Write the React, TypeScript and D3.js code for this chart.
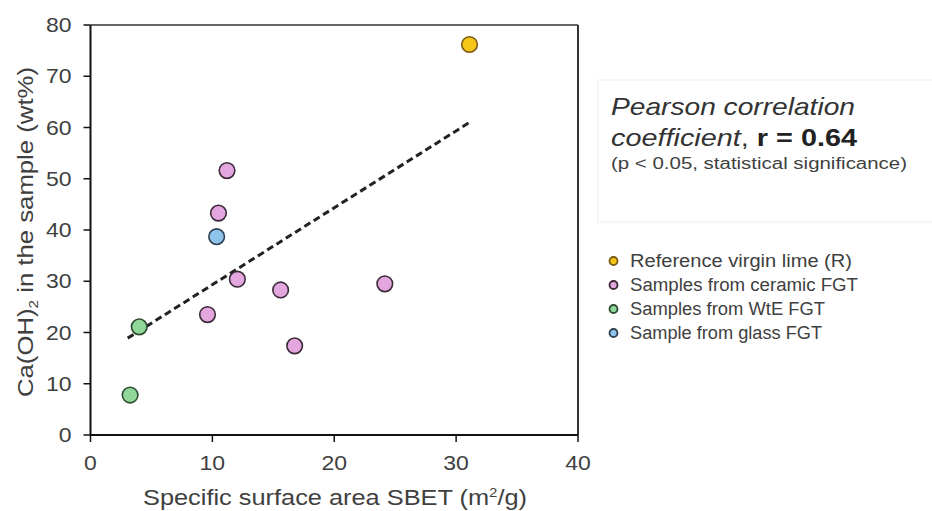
import React from "react";
import * as d3 from "d3";

const groups = ["Reference virgin lime (R)", "Samples from ceramic FGT", "Samples from WtE FGT", "Sample from glass FGT"];
const groupColors = ["#F5C518", "#E3A6DE", "#8FD89A", "#8EC3EC"];
const groupStrokes = ["#7A5A12", "#3A2A38", "#2E4A30", "#2E3F50"];

const sbet = [31.1, 11.2, 10.5, 10.35, 12.05, 15.6, 9.6, 16.75, 24.15, 4.0, 3.25];
const caoh = [76.2, 51.6, 43.3, 38.7, 30.4, 28.3, 23.5, 17.4, 29.5, 21.1, 7.8];
const groupIdx = [0, 1, 1, 3, 1, 1, 1, 1, 1, 2, 2];

const trendX = [3.05, 31.1];
const trendY = [18.9, 61.0];

const xTicks = [0, 10, 20, 30, 40];
const yTicks = [0, 10, 20, 30, 40, 50, 60, 70, 80];

const legendWidths = [222, 228, 195, 192];

export default function App() {
  const x = d3.scaleLinear().domain([0, 40]).range([90.5, 578]);
  const y = d3.scaleLinear().domain([0, 80]).range([435, 25]);
  const line = d3.line<number>().x((d, i) => x(trendX[i])).y((d, i) => y(trendY[i]));
  const font = "Liberation Sans, Arial, sans-serif";
  const txt = "#404040";
  const sx = 1.15;
  return (
    <svg width={932} height={511} style={{ position: "absolute", left: 0, top: 0, fontFamily: font }}>
      <rect width={932} height={511} fill="#fff" />
      {/* frame */}
      <line x1={x(0)} x2={x(40)} y1={y(80)} y2={y(80)} stroke="#666" strokeWidth={2} />
      <line x1={x(40)} x2={x(40)} y1={y(80)} y2={y(0)} stroke="#333" strokeWidth={2} />
      <line x1={x(0)} x2={x(0)} y1={y(80)} y2={y(0)} stroke="#111" strokeWidth={2} />
      <line x1={x(0)} x2={x(40)} y1={y(0)} y2={y(0)} stroke="#111" strokeWidth={2} />
      {yTicks.map((t) => (
        <g key={"y" + t}>
          <line x1={x(0) - 7} x2={x(0)} y1={y(t)} y2={y(t)} stroke="#111" strokeWidth={1.5} />
          <text transform={`translate(71.5,${y(t) + 7}) scale(${sx},1)`} textAnchor="end" fontSize={20} fill={txt}>{t}</text>
        </g>
      ))}
      {xTicks.map((t) => (
        <g key={"x" + t}>
          <line x1={x(t)} x2={x(t)} y1={y(0)} y2={y(0) + 7} stroke="#111" strokeWidth={1.5} />
          <text transform={`translate(${x(t)},470) scale(${sx},1)`} textAnchor="middle" fontSize={20} fill={txt}>{t}</text>
        </g>
      ))}
      <text x={143} y={505} fontSize={22} fill={txt} textLength={384} lengthAdjust="spacingAndGlyphs">
        Specific surface area SBET (m<tspan fontSize={13} dy={-8}>2</tspan><tspan dy={8}>/g)</tspan>
      </text>
      <text transform="translate(33,397) rotate(-90)" fontSize={22} fill={txt} textLength={330} lengthAdjust="spacingAndGlyphs">
        Ca(OH)<tspan fontSize={13} dy={5}>2</tspan><tspan dy={-5}> in the sample (wt%)</tspan>
      </text>
      <path d={line(trendX) || ""} fill="none" stroke="#222" strokeWidth={3} strokeDasharray="7,4" />
      {sbet.map((v, i) => (
        <circle key={i} cx={x(v)} cy={y(caoh[i])} r={7.8} fill={groupColors[groupIdx[i]]} stroke={groupStrokes[groupIdx[i]]} strokeWidth={1.6} />
      ))}
      {/* annotation box */}
      <rect x={598} y={80} width={340} height={142} fill="#fff" stroke="#eeeeee" strokeWidth={1} />
      <text x={611} y={115} fontSize={24} fontStyle="italic" fill="#333" textLength={244} lengthAdjust="spacingAndGlyphs">Pearson correlation</text>
      <text x={611} y={146} fontSize={24} fill="#333" textLength={246} lengthAdjust="spacingAndGlyphs">
        <tspan fontStyle="italic">coefficient</tspan>, <tspan fontWeight="bold" fill="#222">r = 0.64</tspan>
      </text>
      <text x={611} y={169} fontSize={16} fill={txt} textLength={296} lengthAdjust="spacingAndGlyphs">(p &lt; 0.05, statistical significance)</text>
      {groups.map((g, i) => (
        <g key={g}>
          <circle cx={613.5} cy={261 + i * 24} r={4} fill={groupColors[i]} stroke={groupStrokes[i]} strokeWidth={1.8} />
          <text x={630} y={261 + i * 24} dy="0.35em" fontSize={18} fill={txt} textLength={legendWidths[i]} lengthAdjust="spacingAndGlyphs">{g}</text>
        </g>
      ))}
    </svg>
  );
}
